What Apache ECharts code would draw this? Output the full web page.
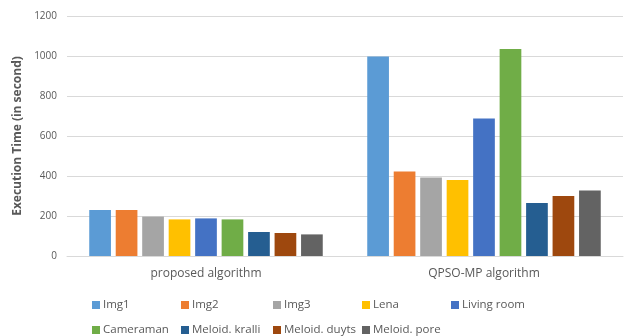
<!DOCTYPE html>
<html>
<head>
<meta charset="utf-8">
<script src="https://cdn.jsdelivr.net/npm/echarts@6/dist/echarts.min.js"></script>
<style>
  html, body { margin: 0; padding: 0; background: #fff; }
  #chart { width: 626px; height: 336px; }
</style>
</head>
<body>
<div id="chart"></div>
<script>
// Execution time per test image for the two algorithms
const categories = ['proposed algorithm', 'QPSO-MP algorithm'];
const seriesNames = ['Img1', 'Img2', 'Img3', 'Lena', 'Living room',
  'Cameraman', 'Meloid. kralli', 'Meloid. duyts', 'Meloid. pore'];
const img1 = [230, 998];
const img2 = [230, 422];
const img3 = [197, 393];
const lena = [183, 380];
const livingRoom = [188, 688];
const cameraman = [183, 1035];
const meloidKralli = [120, 265];
const meloidDuyts = [115, 300];
const meloidPore = [108, 328];
const yTicks = [0, 200, 400, 600, 800, 1000, 1200];

const values = [img1, img2, img3, lena, livingRoom, cameraman,
  meloidKralli, meloidDuyts, meloidPore];
const colors = ['#5B9BD5', '#ED7D31', '#A5A5A5', '#FFC000', '#4472C4',
  '#70AD47', '#255E91', '#9E480E', '#636363'];

const font = '"Open Sans", "Liberation Sans", sans-serif';
const textColor = '#595959';

// legend laid out in fixed columns, two rows
const colX = [92, 181, 273, 362, 451];
const rowY = [299, 324];
const legends = seriesNames.map((name, i) => ({
  data: [name],
  left: colX[i < 5 ? i : i - 5],
  top: rowY[i < 5 ? 0 : 1],
  padding: 0,
  itemWidth: 8,
  itemHeight: 8,
  itemGap: 0,
  icon: 'rect',
  selectedMode: false,
  textStyle: { color: textColor, fontSize: 11.5, fontFamily: font, padding: [0, 0, 0, -2] }
}));

const chart = echarts.init(document.getElementById('chart'), null, { renderer: 'canvas' });
chart.setOption({
  animation: false,
  color: colors,
  grid: { left: 67, right: 3, top: 16, bottom: 80 },
  legend: legends,
  xAxis: {
    type: 'category',
    data: categories,
    axisTick: { show: false },
    axisLine: { lineStyle: { color: '#D9D9D9', width: 1 } },
    axisLabel: { color: textColor, fontSize: 12, fontFamily: font, margin: 12 }
  },
  yAxis: {
    type: 'value',
    min: yTicks[0],
    max: yTicks[yTicks.length - 1],
    interval: yTicks[1] - yTicks[0],
    name: 'Execution Time (in second)',
    nameLocation: 'middle',
    nameRotate: 90,
    nameGap: 38,
    nameTextStyle: { color: textColor, fontSize: 12, fontWeight: 'bold', fontFamily: font },
    axisLine: { show: false },
    axisTick: { show: false },
    splitLine: { lineStyle: { color: '#D9D9D9', width: 1 } },
    axisLabel: {
      color: textColor, fontSize: 10, fontFamily: font, margin: 10,
      formatter: (v) => String(v)
    }
  },
  series: seriesNames.map((name, i) => ({
    name: name,
    type: 'bar',
    data: values[i],
    barGap: '22%',
    barCategoryGap: '16%'
  }))
});
</script>
</body>
</html>
